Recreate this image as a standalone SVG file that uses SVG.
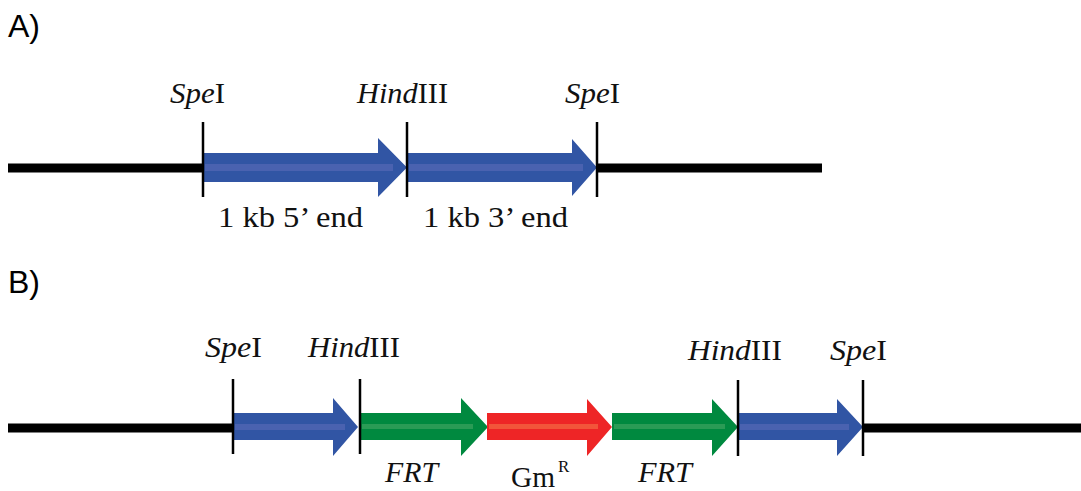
<svg xmlns="http://www.w3.org/2000/svg" width="1081" height="491" viewBox="0 0 1081 491">
  <style>
    .dna { stroke: #000; stroke-width: 9; fill: none; }
    .tick { stroke: #000; stroke-width: 2.5; }
    .blue { fill: #3155a4; }
    .green { fill: #00893f; }
    .red { fill: #ee2526; }
    .stripe-blue { fill: #4a62b0; }
    .stripe-green { fill: #2a9b55; }
    .stripe-red { fill: #f2553a; }
    .lbl { font-family: "Liberation Serif", "Times New Roman", serif; font-size: 29px; fill: #111; }
    .it { font-style: italic; }
    .panel { font-family: "Liberation Sans", Arial, sans-serif; font-size: 32px; fill: #000; }
  </style>

  <!-- panel letters -->
  <text class="panel" x="8" y="37">A)</text>
  <text class="panel" x="8" y="293">B)</text>

  <!-- Panel A -->
  <g id="connectors-a">
    <line class="dna" x1="8" y1="168" x2="203" y2="168"/>
    <line class="dna" x1="597" y1="168" x2="822" y2="168"/>
  </g>
  <g id="a-arrow-5end">
    <polygon class="blue" points="203,153 378,153 378,138 407,167.5 378,197 378,182 203,182"/>
    <rect class="stripe-blue" x="205" y="164" width="188" height="7"/>
    <text class="lbl" x="218" y="227" textLength="145" lengthAdjust="spacingAndGlyphs">1 kb 5’ end</text>
  </g>
  <g id="a-arrow-3end">
    <polygon class="blue" points="407,153 572,153 572,139 597,167.5 572,196 572,182 407,182"/>
    <rect class="stripe-blue" x="409" y="164" width="174" height="7"/>
    <text class="lbl" x="423" y="227" textLength="145" lengthAdjust="spacingAndGlyphs">1 kb 3’ end</text>
  </g>
  <g id="a-site-spe1">
    <line class="tick" x1="203" y1="122" x2="203" y2="197"/>
    <text class="lbl" x="170" y="103" textLength="55" lengthAdjust="spacingAndGlyphs"><tspan class="it">Spe</tspan>I</text>
  </g>
  <g id="a-site-hind">
    <line class="tick" x1="407" y1="122" x2="407" y2="197"/>
    <text class="lbl" x="357" y="103" textLength="91" lengthAdjust="spacingAndGlyphs"><tspan class="it">Hind</tspan>III</text>
  </g>
  <g id="a-site-spe2">
    <line class="tick" x1="597" y1="122" x2="597" y2="197"/>
    <text class="lbl" x="565" y="103" textLength="55" lengthAdjust="spacingAndGlyphs"><tspan class="it">Spe</tspan>I</text>
  </g>

  <!-- Panel B -->
  <g id="connectors-b">
    <line class="dna" x1="8" y1="428" x2="233" y2="428"/>
    <line class="dna" x1="863" y1="428" x2="1081" y2="428"/>
  </g>
  <g id="b-arrow-blue1">
    <polygon class="blue" points="233,413 333,413 333,398 358,427 333,456 333,440 233,440"/>
    <rect class="stripe-blue" x="235" y="424" width="110" height="6"/>
  </g>
  <g id="b-arrow-frt1">
    <polygon class="green" points="360,413 461,413 461,398 488,427 461,456 461,440 360,440"/>
    <rect class="stripe-green" x="362" y="424" width="111" height="5"/>
    <text class="lbl it" x="385" y="482" textLength="53" lengthAdjust="spacingAndGlyphs">FRT</text>
  </g>
  <g id="b-arrow-gm">
    <polygon class="red" points="487,413 587,413 587,399 612,427 587,456 587,440 487,440"/>
    <rect class="stripe-red" x="489" y="424" width="109" height="5"/>
    <text class="lbl" x="511" y="487" textLength="44" lengthAdjust="spacingAndGlyphs">Gm</text>
    <text class="lbl" x="558" y="472" style="font-size:17px">R</text>
  </g>
  <g id="b-arrow-frt2">
    <polygon class="green" points="612,413 712,413 712,399 738,427 712,456 712,440 612,440"/>
    <rect class="stripe-green" x="614" y="424" width="111" height="5"/>
    <text class="lbl it" x="638" y="482" textLength="54" lengthAdjust="spacingAndGlyphs">FRT</text>
  </g>
  <g id="b-arrow-blue2">
    <polygon class="blue" points="738,413 837,413 837,399 863,427 837,456 837,440 738,440"/>
    <rect class="stripe-blue" x="740" y="424" width="109" height="6"/>
  </g>
  <g id="b-site-spe1">
    <line class="tick" x1="233" y1="379" x2="233" y2="454"/>
    <text class="lbl" x="205" y="357" textLength="57" lengthAdjust="spacingAndGlyphs"><tspan class="it">Spe</tspan>I</text>
  </g>
  <g id="b-site-hind1">
    <line class="tick" x1="360" y1="379" x2="360" y2="454"/>
    <text class="lbl" x="308" y="357" textLength="92" lengthAdjust="spacingAndGlyphs"><tspan class="it">Hind</tspan>III</text>
  </g>
  <g id="b-site-hind2">
    <line class="tick" x1="738" y1="380" x2="738" y2="456"/>
    <text class="lbl" x="688" y="360" textLength="94" lengthAdjust="spacingAndGlyphs"><tspan class="it">Hind</tspan>III</text>
  </g>
  <g id="b-site-spe2">
    <line class="tick" x1="863" y1="380" x2="863" y2="456"/>
    <text class="lbl" x="830" y="360" textLength="57" lengthAdjust="spacingAndGlyphs"><tspan class="it">Spe</tspan>I</text>
  </g>
</svg>
